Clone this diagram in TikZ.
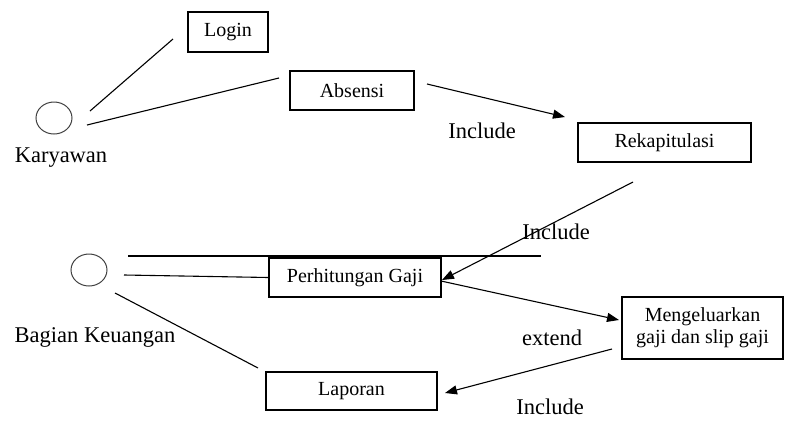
\documentclass[tikz,border=0pt]{standalone}
\usepackage{fontspec}
\setmainfont{Liberation Serif}
\usetikzlibrary{shapes.geometric,arrows.meta}

\tikzset{
  usecase/.style={rectangle, draw, line width=1.1pt, inner sep=0pt,
    font=\fontsize{20}{22}\selectfont, align=center},
  actor/.style={ellipse, draw=black!75, line width=1pt, minimum width=36pt,
    minimum height=32pt, inner sep=0pt},
  lbl/.style={font=\fontsize{22.5}{26}\selectfont, inner sep=0pt},
  link/.style={line width=1.1pt},
  incl/.style={link, -{Triangle[length=12pt,width=9pt]}}
}

\begin{document}
\begin{tikzpicture}[x=1pt, y=-1pt]
  \useasboundingbox (0,0) rectangle (785,421);

  % actors
  \node[actor] (kary) at (54,118) {};
  \node[actor] (keu) at (89,270) {};
  \node[lbl] (karylbl) at (61,158) {Karyawan};
  \node[lbl] (keulbl) at (95,337) {Bagian Keuangan};

  % use cases
  \begin{scope}[every node/.style={usecase}]
    \node[minimum width=80pt, minimum height=40pt] (login) at (228,32) {Login};
    \node[minimum width=124pt, minimum height=39pt] (absen) at (352,90.5) {Absensi};
    \node[minimum width=173pt, minimum height=39pt] (rekap) at (664.5,142.5) {Rekapitulasi};
    \node[minimum width=172pt, minimum height=39pt] (hitung) at (355,277.5) {Perhitungan Gaji};
    \node[minimum width=161pt, minimum height=62pt] (keluar) at (702.5,328) {Mengeluarkan\\gaji dan slip gaji};
    \node[minimum width=171pt, minimum height=38pt] (lapor) at (351.5,391) {Laporan};
  \end{scope}

  % relation labels
  \node[lbl] (inc1) at (482,131) {Include};
  \node[lbl] (inc2) at (556,232) {Include};
  \node[lbl] (ext1) at (552,338) {extend};
  \node[lbl] (inc3) at (550,407) {Include};

  % loose line ends
  \coordinate (k1) at (90,111);
  \coordinate (l1) at (173,39);
  \coordinate (k2) at (87,125);
  \coordinate (a1) at (279,78);
  \coordinate (a2) at (427,84);
  \coordinate (r1) at (565,117);
  \coordinate (r2) at (633,182);
  \coordinate (h1) at (442,280);
  \coordinate (h2) at (441,281);
  \coordinate (m1) at (619,320);
  \coordinate (m2) at (612,349);
  \coordinate (p1) at (445,393);
  \coordinate (s1) at (128,256);
  \coordinate (s2) at (541,256);
  \coordinate (g1) at (124,275);
  \coordinate (g2) at (115,293);
  \coordinate (p2) at (258,368);

  \begin{scope}[link]
    \draw (k1) to (l1);
    \draw (k2) to (a1);
    \draw (s1) to (s2);
    \draw (g1) to (hitung.west);
    \draw (g2) to (p2);
  \end{scope}

  \begin{scope}[incl]
    \draw (a2) to (r1);
    \draw (r2) to (h1);
    \draw (h2) to (m1);
    \draw (m2) to (p1);
  \end{scope}
\end{tikzpicture}
\end{document}
